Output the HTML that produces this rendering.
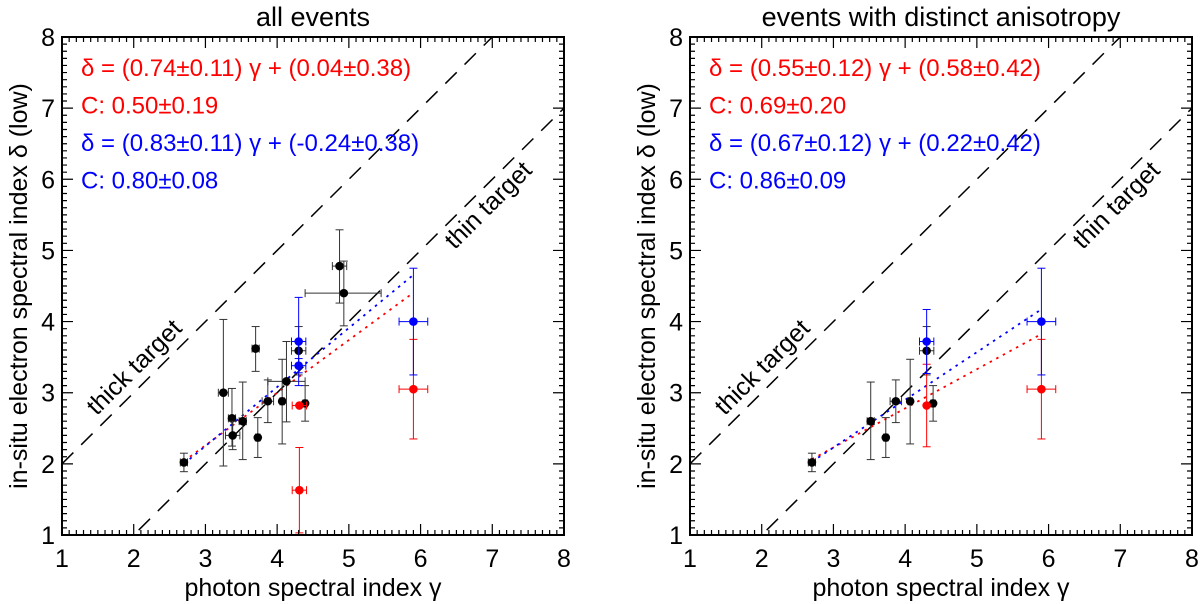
<!DOCTYPE html>
<html><head><meta charset="utf-8">
<style>
body{margin:0;background:#fff;}
svg{display:block;font-family:"Liberation Sans",Arial,sans-serif;}
</style></head>
<body>
<svg id="chart" width="1200" height="604" viewBox="0 0 1200 604" xmlns="http://www.w3.org/2000/svg"></svg>
<script>
// ---- data: left panel (all events) ----
const leftBlackX = [2.70,3.25,3.37,3.38,3.52,3.70,3.73,3.87,4.07,4.13,4.30,4.39,4.87,4.93];
const leftBlackY = [2.02,3.00,2.64,2.40,2.60,3.62,2.37,2.88,2.88,3.16,3.59,2.85,4.78,4.40];
const leftBlackYErrHi = [0.13,1.03,0.42,0.20,0.55,0.31,0.28,0.30,0.59,0.56,0.34,0.25,0.51,0.45];
const leftBlackYErrLo = [0.13,1.03,0.39,0.20,0.54,0.32,0.28,0.30,0.60,0.57,0.34,0.25,0.52,0.46];
const leftBlackXErrLo = [0.05,0.07,0.05,0.10,0.05,0.05,0.03,0.08,0.03,0.26,0.10,0.03,0.10,0.54];
const leftBlackXErrHi = [0.05,0.07,0.05,0.10,0.05,0.05,0.03,0.08,0.03,0.26,0.10,0.03,0.10,0.52];
const leftBlueX = [4.30,4.30,5.90];
const leftBlueY = [3.72,3.38,4.00];
const leftBlueYErr = [0.62,0.10,0.75];
const leftBlueXErr = [0.10,0.10,0.20];
const leftRedX = [4.31,4.31,5.90];
const leftRedY = [2.82,1.63,3.05];
const leftRedYErr = [0.0,0.60,0.70];
const leftRedXErr = [0.10,0.10,0.20];
const leftFitRed = [0.74,0.04];
const leftFitBlue = [0.83,-0.24];
const leftText = ["δ = (0.74±0.11) γ + (0.04±0.38)","C: 0.50±0.19","δ = (0.83±0.11) γ + (-0.24±0.38)","C: 0.80±0.08"];
// ---- data: right panel (distinct anisotropy) ----
const rightBlackX = [2.70,3.52,3.73,3.87,4.07,4.30,4.39];
const rightBlackY = [2.02,2.60,2.37,2.88,2.88,3.59,2.85];
const rightBlackYErrHi = [0.13,0.55,0.28,0.30,0.59,0.34,0.25];
const rightBlackYErrLo = [0.13,0.54,0.28,0.30,0.60,0.34,0.25];
const rightBlackXErrLo = [0.05,0.05,0.03,0.08,0.03,0.10,0.03];
const rightBlackXErrHi = [0.05,0.05,0.03,0.08,0.03,0.10,0.03];
const rightBlueX = [4.30,5.90];
const rightBlueY = [3.72,4.00];
const rightBlueYErr = [0.45,0.75];
const rightBlueXErr = [0.10,0.20];
const rightRedX = [4.30,5.90];
const rightRedY = [2.82,3.05];
const rightRedYErr = [0.58,0.70];
const rightRedXErr = [0.0,0.20];
const rightFitRed = [0.55,0.58];
const rightFitBlue = [0.67,0.22];
const rightText = ["δ = (0.55±0.12) γ + (0.58±0.42)","C: 0.69±0.20","δ = (0.67±0.12) γ + (0.22±0.42)","C: 0.86±0.09"];
const tickLabels = ["1","2","3","4","5","6","7","8"];
const fitRange = [2.7,5.9];

const NS="http://www.w3.org/2000/svg";
const svg=document.getElementById('chart');
function mk(tag,attrs,parent){const e=document.createElementNS(NS,tag);for(const k in attrs)e.setAttribute(k,attrs[k]);(parent||svg).appendChild(e);return e;}

function panel(id,L,R,title,bX,bY,bYH,bYL,bXL,bXH,blX,blY,blYE,blXE,rX,rY,rYE,rXE,fR,fB,txt,thickPos,thinPos){
  const T=37,B=535;
  const sx=v=>L+(v-1)*(R-L)/7, sy=v=>B-(v-1)*(B-T)/7;
  const g=mk('g',{});
  
  
  const cp=mk('clipPath',{id:'clip-'+id},g);
  mk('rect',{x:L,y:T,width:R-L,height:B-T},cp);
  const t=mk('text',{x:(L+R)/2,y:26,'font-size':27,'text-anchor':'middle',fill:'#000'},g);t.textContent=title;
  
  const dl=mk('g',{'clip-path':'url(#clip-'+id+')'},g);
  [1,-1].forEach(off=>{
    const l=mk('line',{x1:sx(1),y1:sy(1+off),x2:sx(8),y2:sy(8+off),stroke:'#000','stroke-width':1.5,'stroke-dasharray':'16,11'},dl);
    
    
  });
  [[thickPos,'thick target'],[thinPos,'thin target']].forEach(([p,s])=>{
    const e=mk('text',{x:p[0],y:p[1],'font-size':25,'text-anchor':'middle',transform:`rotate(-45 ${p[0]} ${p[1]})`,fill:'#000'},g);
    e.textContent=s;
    
    
  });
  [[fR,'#f00'],[fB,'#00f']].forEach(([f,c],i)=>{
    const l=mk('line',{x1:sx(fitRange[0]),y1:sy(f[0]*fitRange[0]+f[1]),x2:sx(fitRange[1]),y2:sy(f[0]*fitRange[1]+f[1]),stroke:c,'stroke-width':1.8,'stroke-dasharray':'2.5,5'},g);
    
    
  });
  const pts=mk('g',{'clip-path':'url(#clip-'+id+')'},g);
  function pt(x,y,yh,yl,xl,xh,c,name){
    const gg=mk('g',{},pts);
    
    
    const cw=c==='#000'?'#333':c;
    if(yh>0||yl>0){
      mk('line',{x1:sx(x),y1:sy(y+yh),x2:sx(x),y2:sy(y-yl),stroke:cw,'stroke-width':1},gg);
      mk('line',{x1:sx(x)-4,y1:sy(y+yh),x2:sx(x)+4,y2:sy(y+yh),stroke:cw,'stroke-width':1},gg);
      mk('line',{x1:sx(x)-4,y1:sy(y-yl),x2:sx(x)+4,y2:sy(y-yl),stroke:cw,'stroke-width':1},gg);
    }
    if(xl>0||xh>0){
      mk('line',{x1:sx(x-xl),y1:sy(y),x2:sx(x+xh),y2:sy(y),stroke:cw,'stroke-width':1},gg);
      mk('line',{x1:sx(x-xl),y1:sy(y)-4,x2:sx(x-xl),y2:sy(y)+4,stroke:cw,'stroke-width':1},gg);
      mk('line',{x1:sx(x+xh),y1:sy(y)-4,x2:sx(x+xh),y2:sy(y)+4,stroke:cw,'stroke-width':1},gg);
    }
    mk('circle',{cx:sx(x),cy:sy(y),r:4.3,fill:c},gg);
  }
  bX.forEach((x,i)=>pt(x,bY[i],bYH[i],bYL[i],bXL[i],bXH[i],'#000','black-point'));
  rX.forEach((x,i)=>pt(x,rY[i],rYE[i],rYE[i],rXE[i],rXE[i],'#f00','red-point'));
  blX.forEach((x,i)=>pt(x,blY[i],blYE[i],blYE[i],blXE[i],blXE[i],'#00f','blue-point'));
  const cols=['#f00','#f00','#00f','#00f'];
  txt.forEach((s,i)=>{
    const e=mk('text',{x:L+19,y:76+i*37.5,'font-size':24,fill:cols[i]},g);e.textContent=s;
    
    
  });
  const box=mk('rect',{x:L,y:T,width:R-L,height:B-T,fill:'none',stroke:'#000','stroke-width':2},g);
  
  let d='';
  for(let k=0;k<=70;k++){
    const v=1+k/10, len=(k%10===0)?11:5;
    const X=sx(v),Y=sy(v);
    d+=`M${X},${B}v${-len}M${X},${T}v${len}M${L},${Y}h${len}M${R},${Y}h${-len}`;
  }
  mk('path',{d:d,stroke:'#000','stroke-width':1.2,fill:'none'},g);
  tickLabels.forEach((s,i)=>{
    const v=i+1;
    const a=mk('text',{x:sx(v),y:B+32,'font-size':25,'text-anchor':'middle'},g);a.textContent=s;
    
    const b=mk('text',{x:L-7,y:sy(v)+9,'font-size':25,'text-anchor':'end'},g);b.textContent=s;
    
  });
  const xt=mk('text',{x:(L+R)/2,y:596,'font-size':25,'text-anchor':'middle'},g);xt.textContent='photon spectral index γ';
  
  const yc=(T+B)/2, yx=L-35;
  const yt=mk('text',{x:yx,y:yc,'font-size':25,'text-anchor':'middle',transform:`rotate(-90 ${yx} ${yc})`},g);yt.textContent='in-situ electron spectral index δ (low)';
  
}
panel('left',62,564,'all events',leftBlackX,leftBlackY,leftBlackYErrHi,leftBlackYErrLo,leftBlackXErrLo,leftBlackXErrHi,leftBlueX,leftBlueY,leftBlueYErr,leftBlueXErr,leftRedX,leftRedY,leftRedYErr,leftRedXErr,leftFitRed,leftFitBlue,leftText,[140,373],[494,211]);
panel('right',690,1192,'events with distinct anisotropy',rightBlackX,rightBlackY,rightBlackYErrHi,rightBlackYErrLo,rightBlackXErrLo,rightBlackXErrHi,rightBlueX,rightBlueY,rightBlueYErr,rightBlueXErr,rightRedX,rightRedY,rightRedYErr,rightRedXErr,rightFitRed,rightFitBlue,rightText,[768,373],[1122,211]);
</script>
</body></html>
